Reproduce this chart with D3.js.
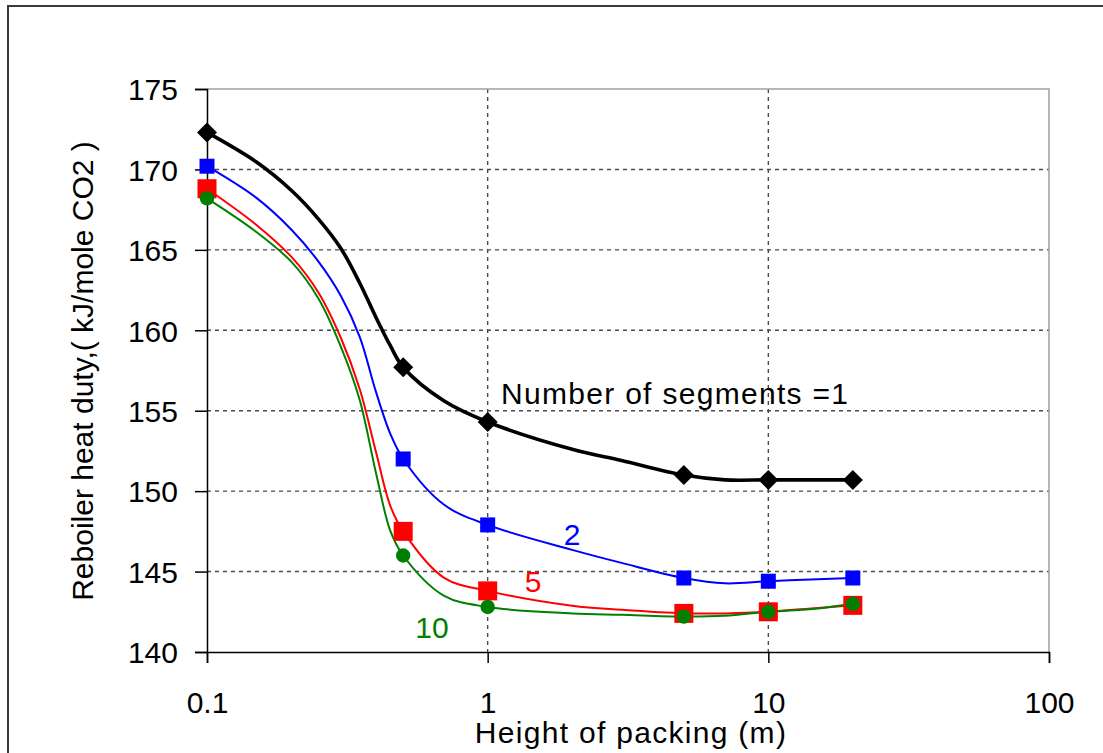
<!DOCTYPE html>
<html>
<head>
<meta charset="utf-8">
<script src="https://cdn.jsdelivr.net/npm/d3@7"></script>
<style>
  html, body { margin: 0; padding: 0; background: #fff; }
  svg { display: block; }
  text { font-family: "Liberation Sans", Arial, sans-serif; }
</style>
</head>
<body>
<svg id="chart" width="1103" height="753"></svg>
<script>
// Packing heights (m) where the duty was computed (marked points)
const heights = [0.1, 0.5, 1, 5, 10, 20];
// Reboiler heat duty (kJ/mole CO2) for each number of segments
const seg1 = [172.3, 157.7, 154.3, 151.0, 150.7, 150.7];
const seg2 = [170.2, 152.0, 147.9, 144.6, 144.4, 144.6];
const seg5 = [168.8, 147.5, 143.8, 142.4, 142.5, 142.9];
const seg10 = [168.2, 146.0, 142.8, 142.2, 142.5, 143.0];

// Smoothed trend lines through the points
const curveHeights = [0.1, 0.15, 0.2, 0.25, 0.3, 0.35, 0.4, 0.45, 0.5, 0.7, 1, 2, 3, 5, 7, 10, 15, 20];
const curve1 = [172.3, 170.46, 168.69, 166.90, 165.09, 162.94, 160.80, 159.04, 157.7, 155.6, 154.3, 152.6, 151.9, 151.0, 150.7, 150.7, 150.7, 150.7];
const curve2 = [170.2, 168.23, 166.25, 164.25, 162.13, 159.59, 156.17, 153.56, 152.0, 149.15, 147.9, 146.35, 145.54, 144.6, 144.27, 144.4, 144.52, 144.6];
const curve5 = [168.8, 166.55, 164.56, 162.32, 159.52, 156.35, 152.44, 149.08, 147.5, 144.61, 143.8, 142.87, 142.62, 142.4, 142.4, 142.5, 142.74, 142.9];
const curve10 = [168.2, 166.11, 164.25, 161.95, 158.97, 155.67, 151.13, 147.53, 146.0, 143.49, 142.8, 142.40, 142.31, 142.2, 142.25, 142.5, 142.71, 143.0];

const xTicks = [0.1, 1, 10, 100];
const xTickLabels = ["0.1", "1", "10", "100"];
const yTicks = [140, 145, 150, 155, 160, 165, 170, 175];

const svg = d3.select("#chart");
const W = 1103, H = 753;

// outer frame (right and bottom edges run past the canvas)
svg.append("rect")
  .attr("x", 8).attr("y", 6)
  .attr("width", 1200).attr("height", 800)
  .attr("fill", "none").attr("stroke", "#3a3a3a").attr("stroke-width", 2);

const plot = { left: 207, right: 1049, top: 89, bottom: 652 };

const x = d3.scaleLog().domain([0.1, 100]).range([plot.left, plot.right]);
const y = d3.scaleLinear().domain([140, 175]).range([plot.bottom, plot.top]);

// gridlines
const grid = svg.append("g");
grid.selectAll("line.h")
  .data(yTicks.filter(v => v > 140 && v < 175))
  .join("line")
  .attr("x1", plot.left).attr("x2", plot.right)
  .attr("y1", d => y(d)).attr("y2", d => y(d))
  .attr("stroke", "#4a4a4a").attr("stroke-width", 1.4)
  .attr("stroke-dasharray", "4,4");
grid.selectAll("line.v")
  .data(xTicks.filter(v => v > 0.1 && v < 100))
  .join("line")
  .attr("x1", d => x(d)).attr("x2", d => x(d))
  .attr("y1", plot.top).attr("y2", plot.bottom)
  .attr("stroke", "#4a4a4a").attr("stroke-width", 1.4)
  .attr("stroke-dasharray", "4,4");

// plot frame top / right
svg.append("path")
  .attr("d", `M${plot.left},${plot.top}H${plot.right}V${plot.bottom}`)
  .attr("fill", "none").attr("stroke", "#a0a0a0").attr("stroke-width", 1.5);

// axes
const yAxis = d3.axisLeft(y).tickValues(yTicks).tickSize(12).tickFormat(d3.format("d"));
const gy = svg.append("g").attr("transform", `translate(${plot.left},0)`).call(yAxis);
gy.select(".domain").attr("stroke", "#000").attr("stroke-width", 1.5);
gy.selectAll(".tick line").attr("stroke", "#000").attr("stroke-width", 1.5);
gy.selectAll(".tick text")
  .attr("x", -29).attr("dy", "0.36em")
  .attr("font-size", 30).attr("fill", "#000");

const xAxis = d3.axisBottom(x).tickValues(xTicks).tickSize(11)
  .tickFormat((d, i) => xTickLabels[i]);
const gx = svg.append("g").attr("transform", `translate(0,${plot.bottom})`).call(xAxis);
gx.select(".domain").attr("stroke", "#000").attr("stroke-width", 1.5);
gx.selectAll(".tick line").attr("stroke", "#000").attr("stroke-width", 1.5);
gx.selectAll(".tick text")
  .attr("y", 61).attr("dy", 0)
  .attr("font-size", 30).attr("fill", "#000");

// series
const series = [
  { pts: seg1, curve: curve1, color: "#000000", width: 3.6, marker: "diamond" },
  { pts: seg2, curve: curve2, color: "#0000ff", width: 2, marker: "square", size: 15 },
  { pts: seg5, curve: curve5, color: "#ff0000", width: 2, marker: "square", size: 19 },
  { pts: seg10, curve: curve10, color: "#008000", width: 2, marker: "circle" }
];

const line = d3.line()
  .x(d => x(d[0])).y(d => y(d[1]))
  .curve(d3.curveCatmullRom.alpha(0.5));

series.forEach(s => {
  svg.append("path")
    .datum(curveHeights.map((h, i) => [h, s.curve[i]]))
    .attr("d", line)
    .attr("fill", "none")
    .attr("stroke", s.color)
    .attr("stroke-width", s.width)
    .attr("stroke-linejoin", "round");
});

series.forEach(s => {
  const g = svg.append("g");
  const data = heights.map((h, i) => [h, s.pts[i]]);
  if (s.marker === "diamond") {
    g.selectAll("path").data(data).join("path")
      .attr("d", d => {
        const cx = x(d[0]), cy = y(d[1]), r = 10;
        return `M${cx},${cy - r}L${cx + r},${cy}L${cx},${cy + r}L${cx - r},${cy}Z`;
      })
      .attr("fill", s.color);
  } else if (s.marker === "square") {
    g.selectAll("rect").data(data).join("rect")
      .attr("x", d => x(d[0]) - s.size / 2)
      .attr("y", d => y(d[1]) - s.size / 2)
      .attr("width", s.size).attr("height", s.size)
      .attr("fill", s.color);
  } else {
    g.selectAll("circle").data(data).join("circle")
      .attr("cx", d => x(d[0])).attr("cy", d => y(d[1]))
      .attr("r", 7.2)
      .attr("fill", s.color);
  }
});

// series labels
const labels = [
  { text: "Number of segments =1", x: 501, y: 404, color: "#000", anchor: "start", spacing: 1.3 },
  { text: "2", x: 572, y: 545, color: "#0000ff", anchor: "middle", spacing: 0 },
  { text: "5", x: 533, y: 592, color: "#ff0000", anchor: "middle", spacing: 0 },
  { text: "10", x: 432, y: 638, color: "#008000", anchor: "middle", spacing: 0 }
];
svg.selectAll("text.lbl").data(labels).join("text")
  .attr("class", "lbl")
  .attr("x", d => d.x).attr("y", d => d.y)
  .attr("text-anchor", d => d.anchor)
  .attr("letter-spacing", d => d.spacing)
  .attr("font-size", 30)
  .attr("fill", d => d.color)
  .text(d => d.text);

// axis titles
svg.append("text")
  .attr("x", 631).attr("y", 743)
  .attr("text-anchor", "middle")
  .attr("font-size", 30)
  .attr("letter-spacing", 1.3)
  .attr("fill", "#000")
  .text("Height of packing (m)");

svg.append("text")
  .attr("transform", "translate(93,371) rotate(-90)")
  .attr("text-anchor", "middle")
  .attr("font-size", 30)
  .attr("fill", "#000")
  .text("Reboiler heat duty,( kJ/mole CO2 )");
</script>
</body>
</html>
